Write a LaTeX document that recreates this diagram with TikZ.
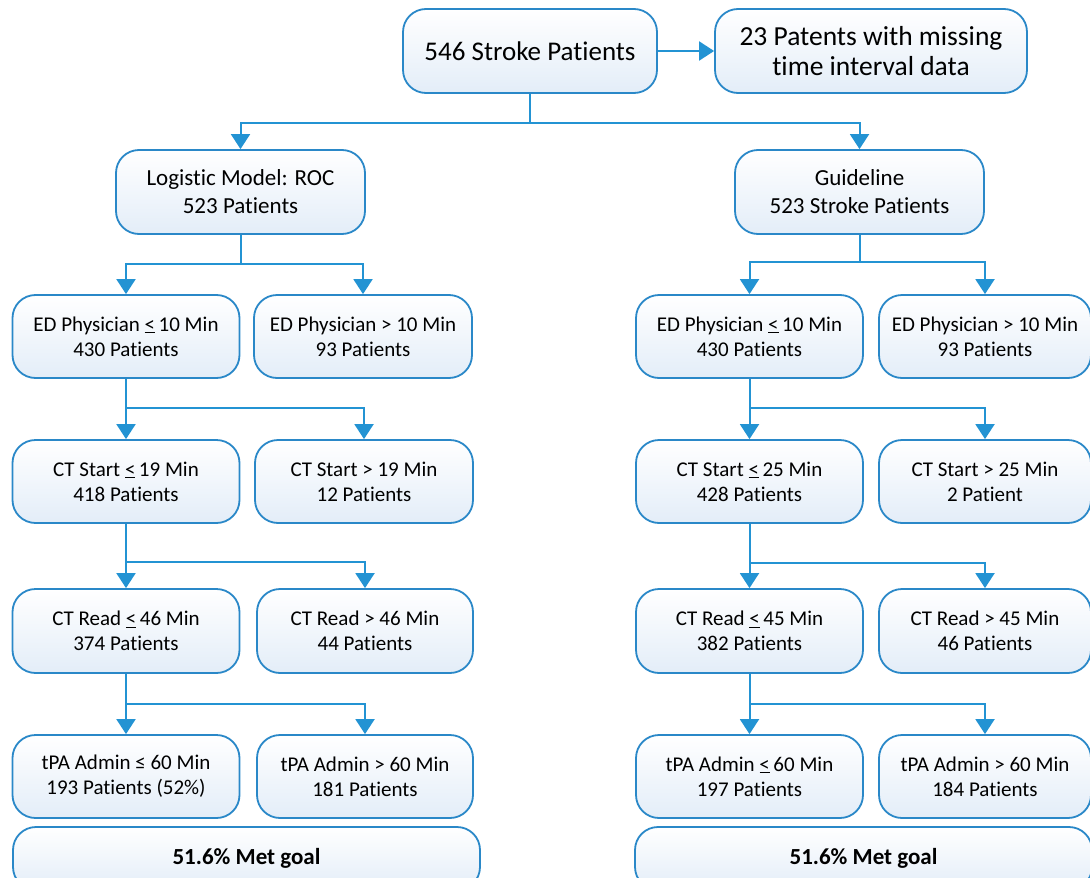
\documentclass[tikz,border=0pt]{standalone}
\usepackage{fontspec}
\setmainfont{Carlito}[Ligatures=NoCommon]
\usetikzlibrary{arrows.meta}
\definecolor{lineblue}{HTML}{2393D3}
\definecolor{boxedge}{HTML}{2A88C8}
\definecolor{boxfill}{HTML}{E3EDF8}
\newcommand{\uleq}{\underline{<}\,}
\tikzset{
  box/.style={draw=boxedge, line width=1.8pt, rounded corners=23pt,
    top color=white, bottom color=boxfill, align=center, inner sep=0pt,
    font=\fontsize{21}{25}\selectfont},
  rowbox/.style={box, minimum height=83pt},
  conn/.style={draw=lineblue, line width=2pt, -{Triangle[width=19pt,length=15pt]}},
}
\begin{document}
\begin{tikzpicture}[x=1pt,y=-1pt]
\useasboundingbox (0,0) rectangle (1090,878);
\clip (0,0) rectangle (1090,878);
% top
\node[box, minimum width=254pt, minimum height=84pt, font=\fontsize{27}{32}\selectfont] (top) at (530,51) {546 Stroke Patients};
\node[box, minimum width=312pt, minimum height=84pt, font=\fontsize{27.5}{30}\selectfont] (miss) at (871,51) {23 Patents with missing\\time interval data};
% level 1
\node[box, minimum width=249pt, minimum height=84pt, font=\fontsize{23}{28}\selectfont] (log) at (240.5,192) {Logistic Model: ROC\\523 Patients};
\node[box, minimum width=249pt, minimum height=84pt, font=\fontsize{23}{28}\selectfont] (guide) at (859.5,192) {Guideline\\523 Stroke Patients};
% left column
\node[rowbox, minimum width=227pt] (la2) at (126,336.5) {ED Physician \uleq10 Min\\430 Patients};
\node[rowbox, minimum width=218pt] (lb2) at (363,336.5) {ED Physician > 10 Min\\93 Patients};
\node[rowbox, minimum width=227pt] (la3) at (126,481.5) {CT Start \uleq19 Min\\418 Patients};
\node[rowbox, minimum width=218pt] (lb3) at (364,481.5) {CT Start > 19 Min\\12 Patients};
\node[rowbox, minimum width=227pt, minimum height=84pt] (la4) at (126,631) {CT Read \uleq46 Min\\374 Patients};
\node[rowbox, minimum width=216pt, minimum height=84pt] (lb4) at (365,631) {CT Read > 46 Min\\44 Patients};
\node[rowbox, minimum width=227pt] (la5) at (126,776.5) {tPA Admin ≤ 60 Min\\193 Patients (52\%)};
\node[rowbox, minimum width=216pt] (lb5) at (365,776.5) {tPA Admin > 60 Min\\181 Patients};
\node[box, minimum width=467pt, minimum height=63pt, font=\fontsize{23}{28}\selectfont\bfseries] (lgoal) at (246.5,858.5) {51.6\% Met goal};
% right column
\node[rowbox, minimum width=227pt] (ra2) at (749.5,336.5) {ED Physician \uleq10 Min\\430 Patients};
\node[rowbox, minimum width=212pt] (rb2) at (985,336.5) {ED Physician > 10 Min\\93 Patients};
\node[rowbox, minimum width=227pt] (ra3) at (749.5,481.5) {CT Start \uleq25 Min\\428 Patients};
\node[rowbox, minimum width=212pt] (rb3) at (985,481.5) {CT Start > 25 Min\\2 Patient};
\node[rowbox, minimum width=227pt, minimum height=84pt] (ra4) at (749.5,631) {CT Read \uleq45 Min\\382 Patients};
\node[rowbox, minimum width=212pt, minimum height=84pt] (rb4) at (985,631) {CT Read > 45 Min\\46 Patients};
\node[rowbox, minimum width=227pt] (ra5) at (749.5,776.5) {tPA Admin \uleq60 Min\\197 Patients};
\node[rowbox, minimum width=212pt] (rb5) at (985,776.5) {tPA Admin > 60 Min\\184 Patients};
\node[box, minimum width=457pt, minimum height=63pt, font=\fontsize{23}{28}\selectfont\bfseries] (rgoal) at (863.5,858.5) {51.6\% Met goal};
% connectors
\draw[conn] (top.east) -- (miss.west);
\coordinate (j0) at (top.south |- 0,123);
\draw[conn] (top.south) -- (j0) -| (log.north);
\draw[conn] (j0) -| (guide.north);
% left
\coordinate (jl1) at (log.south |- 0,264);
\draw[conn] (log.south) -- (jl1) -| (la2.north);
\draw[conn] (jl1) -| (lb2.north);
\coordinate (jl2) at (la2.south |- 0,408);
\draw[conn] (la2.south) -- (jl2) -- (la3.north);
\draw[conn] (jl2) -| (lb3.north);
\coordinate (jl3) at (la3.south |- 0,562);
\draw[conn] (la3.south) -- (jl3) -- (la4.north);
\draw[conn] (jl3) -| (lb4.north);
\coordinate (jl4) at (la4.south |- 0,704);
\draw[conn] (la4.south) -- (jl4) -- (la5.north);
\draw[conn] (jl4) -| (lb5.north);
% right
\coordinate (jr1) at (guide.south |- 0,262);
\draw[conn] (guide.south) -- (jr1) -| (ra2.north);
\draw[conn] (jr1) -| (rb2.north);
\coordinate (jr2) at (ra2.south |- 0,408);
\draw[conn] (ra2.south) -- (jr2) -- (ra3.north);
\draw[conn] (jr2) -| (rb3.north);
\coordinate (jr3) at (ra3.south |- 0,563);
\draw[conn] (ra3.south) -- (jr3) -- (ra4.north);
\draw[conn] (jr3) -| (rb4.north);
\coordinate (jr4) at (ra4.south |- 0,704);
\draw[conn] (ra4.south) -- (jr4) -- (ra5.north);
\draw[conn] (jr4) -| (rb5.north);
\end{tikzpicture}
\end{document}
